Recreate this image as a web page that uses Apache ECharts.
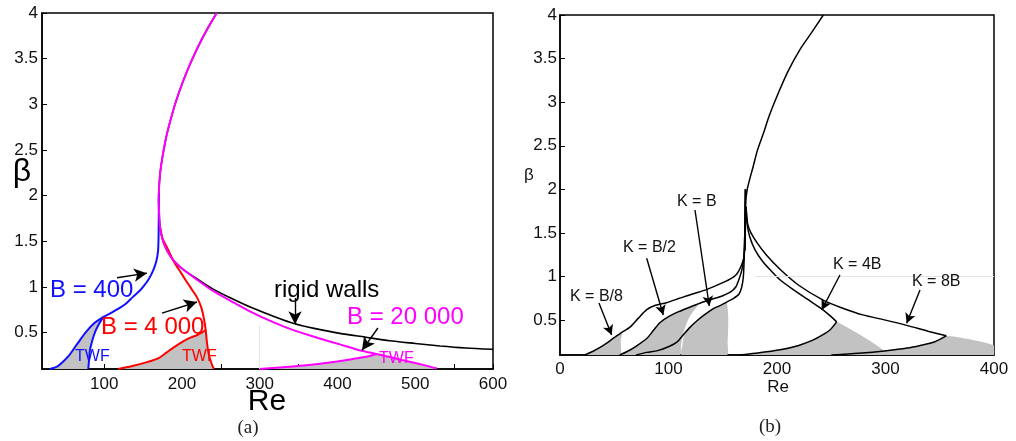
<!DOCTYPE html>
<html>
<head>
<meta charset="utf-8">
<script src="https://cdn.jsdelivr.net/npm/echarts@6/dist/echarts.min.js"></script>
<style>
html,body{margin:0;padding:0;background:#fff}
#chart{width:1016px;height:441px}
</style>
</head>
<body>
<div id="chart"></div>
<script>
// ---------- Panel (a): neutral curves, Re vs beta ----------
const rigidWalls = [[244.6,4],[231,3.8],[219,3.6],[205,3.33],[193,3.05],[186,2.85],[180,2.65],[175.5,2.45],[172,2.25],[170.3,2.05],[170,1.95],[170.7,1.8],[171.7,1.66],[175,1.52],[180,1.41],[188,1.3],[200,1.2],[219,1.09],[240,0.975],[262,0.88],[290,0.77],[320,0.67],[345,0.595],[370,0.545],[403,0.49],[435,0.45],[467,0.41],[500,0.38],[532,0.352],[565,0.33],[600,0.316]];
const b20000Upper = [[244.6,4],[231,3.8],[219,3.6],[205,3.33],[193,3.05],[186,2.85],[180,2.65],[175.5,2.45],[172,2.25],[170.3,2.05],[170,1.95],[170.7,1.8],[171.7,1.66],[175,1.52],[180,1.41],[188,1.3],[200,1.2],[219,1.08],[240,0.955],[262,0.85],[290,0.72],[318,0.61],[345,0.52],[375,0.44],[403,0.37],[431,0.3],[450,0.265],[470,0.225],[490,0.185],[510,0.145],[528,0.105]];
const b20000Lower = [[300,0.1],[330,0.12],[360,0.14],[390,0.17],[420,0.21],[440,0.24],[450,0.265]];
const b4000Upper = [[171.7,1.66],[175,1.53],[178.5,1.47],[182,1.41],[190,1.27],[197.5,1.17],[205,1.07],[212,0.98],[219,0.89],[225,0.77],[228.5,0.64],[230.5,0.53],[232,0.4],[234.5,0.26],[238,0.16],[241,0.1]];
const b4000Lower = [[118,0.1],[135,0.13],[155,0.175],[170,0.22],[180,0.28],[190,0.34],[201,0.4],[210,0.44],[219,0.47],[226,0.5],[230.5,0.53]];
const b400Upper = [[30,0.1],[40,0.13],[47,0.18],[54,0.24],[60,0.31],[69,0.42],[77,0.51],[87,0.6],[97,0.66],[106,0.7],[116,0.75],[127,0.81],[137,0.89],[146,0.96],[151,1.01],[157,1.08],[163,1.18],[167,1.28],[169.3,1.4],[170,1.6],[170.2,1.85],[170.5,2.03]];
const b400Lower = [[79.5,0.1],[80.5,0.2],[81.7,0.31],[84,0.39],[86,0.45],[89,0.52],[92.4,0.58],[98,0.66]];
const arrowsA = [[[116.5,1.1],[155,1.15]],[[174.3,0.713],[219.3,0.834]],[[345.4,0.878],[345.4,0.59]],[[452,0.549],[431.5,0.305]]];

// ---------- Panel (b): effect of K ----------
const mainTop = [[242.7,4],[232,3.8],[221,3.6],[210,3.35],[199.7,3.06],[193,2.85],[187.4,2.64],[182,2.45],[178,2.26],[174.5,2.1],[172.6,2.0],[171,1.85],[170.7,1.6],[170.6,1.3]];
const kB8 = [[23,0.1],[30,0.14],[40,0.21],[49,0.29],[57,0.36],[64.5,0.42],[72,0.52],[80,0.62],[88,0.67],[98,0.7],[110,0.75],[122,0.8],[135,0.85],[150,0.93],[158,0.98],[163,1.03],[167,1.12],[169.5,1.22],[170.5,1.4],[171,1.7],[171,2.0]];
const kB2 = [[55,0.1],[62,0.14],[70,0.2],[80,0.29],[86,0.38],[92,0.47],[100,0.54],[110,0.6],[120,0.65],[130,0.7],[140,0.74],[150,0.78],[157,0.82],[162,0.88],[165,0.97],[167.5,1.07],[169.3,1.2],[170,1.35],[170.5,1.6],[171,2.0]];
const kB = [[70,0.1],[80,0.13],[90,0.15],[101,0.2],[108,0.25],[113.5,0.33],[120,0.42],[126,0.49],[133,0.56],[141,0.63],[148,0.67],[154,0.71],[160,0.75],[165,0.8],[167.5,0.88],[169,1.0],[169.7,1.19],[170.3,1.5],[170.8,2.0]];
const k4BUpper = [[171.5,1.8],[172.5,1.6],[175,1.45],[180,1.3],[187,1.17],[195,1.06],[203,0.96],[215,0.85],[228,0.74],[240,0.64],[248,0.56],[255,0.48]];
const k4BLower = [[165,0.1],[180,0.12],[203,0.16],[220,0.21],[233,0.27],[242,0.33],[249,0.39],[255,0.48]];
const k8BUpper = [[171.5,1.8],[173,1.6],[176,1.5],[182,1.38],[190,1.25],[203,1.08],[220,0.9],[242.5,0.73],[260,0.64],[279,0.56],[300,0.5],[319.5,0.44],[340,0.37],[356,0.32]];
const k8BLower = [[250,0.1],[275,0.12],[301,0.15],[320,0.18],[332,0.21],[345,0.25],[356,0.32]];
const greyB8 = [[23,0.1],[30,0.14],[40,0.21],[49,0.29],[57,0.36],[56,0.25],[55.5,0.1]];
const greyB2 = [[55,0.1],[62,0.14],[70,0.2],[80,0.29],[86,0.38],[92,0.47],[100,0.54],[110,0.6],[120,0.65],[128,0.69],[124,0.62],[120,0.55],[116,0.44],[113,0.32],[111.5,0.2],[110.5,0.1]];
const greyB = [[112,0.1],[113,0.22],[114.5,0.34],[120,0.42],[126,0.49],[133,0.56],[141,0.63],[148,0.67],[153.6,0.7],[155,0.55],[155,0.4],[154.5,0.25],[154,0.1]];
const grey4B = [[165,0.1],[180,0.12],[203,0.16],[220,0.21],[233,0.27],[242,0.33],[249,0.39],[255,0.48],[301,0.1]];
const grey8B = [[250,0.1],[275,0.12],[301,0.15],[320,0.18],[332,0.21],[345,0.25],[356,0.32],[400,0.21],[400,0.1]];
const arrowsB = [[[35.9,0.697],[47.6,0.329]],[[79.9,1.21],[95.2,0.559]],[[124.4,1.763],[137.6,0.662]],[[258,1.018],[241.2,0.616]],[[331.8,0.846],[319.5,0.464]]];

// ---------- tick labels ----------
const betaTicks = [0.5,1,1.5,2,2.5,3,3.5,4];
const reTicksA = [100,200,300,400,500,600];
const reMinorA = [50,100,150,200,250,300,350,400,450,500,550,600];
const reTicksB = [0,100,200,300,400];
const reMinorB = [50,100,150,200,250,300,350];

const FONT = '"Liberation Sans", Arial, sans-serif';

function axis(gridIndex, min, max, labels, ticks, margin) {
  return {
    type: 'value', gridIndex, min, max,
    axisLine: {show: true, lineStyle: {color: '#000', width: 1.5}},
    axisTick: {show: true, inside: true, length: 5, customValues: ticks, lineStyle: {color: '#000', width: 1}},
    axisLabel: {customValues: labels, margin, fontSize: 17, color: '#111', fontFamily: FONT},
    splitLine: {show: false}
  };
}

function line(data, color, width, xi, z) {
  return {type: 'line', xAxisIndex: xi, yAxisIndex: xi, data, showSymbol: false, symbol: 'none',
    smooth: 0.25, lineStyle: {color, width}, silent: true, z: z || 3, animation: false};
}

function area(points, color, xi) {
  return {
    type: 'custom', xAxisIndex: xi, yAxisIndex: xi, data: [points[0]], silent: true, z: 1, clip: true, animation: false,
    renderItem: (params, api) => ({
      type: 'polygon',
      shape: {points: points.map(p => api.coord(p)), smooth: 0.2},
      style: {fill: color}
    })
  };
}

function arrows(list, xi, size) {
  return {
    type: 'line', xAxisIndex: xi, yAxisIndex: xi, data: [list[0][0]], symbol: 'none', lineStyle: {width: 0}, z: 5,
    animation: false,
    markLine: {
      silent: true, animation: false, symbol: ['none', 'arrow'], symbolSize: size,
      label: {show: false}, lineStyle: {color: '#000', width: 1.4, type: 'solid'},
      data: list.map(a => [{coord: a[0]}, {coord: a[1]}])
    }
  };
}

function faint(from, to, xi) {
  return {
    type: 'line', xAxisIndex: xi, yAxisIndex: xi, data: [from], symbol: 'none', lineStyle: {width: 0}, z: 0,
    animation: false,
    markLine: {silent: true, animation: false, symbol: ['none', 'none'], label: {show: false},
      lineStyle: {color: '#e4e4e4', width: 1, type: 'solid'}, data: [[{coord: from}, {coord: to}]]}
  };
}

// grey TWF regions of panel (a), built from the curve arrays
const greyA400 = b400Upper.filter(p => p[0] <= 98).concat(b400Lower.slice().reverse());
const greyA4000 = b4000Lower.concat(b4000Upper.filter(p => p[1] < 0.53));
const greyA20000 = b20000Lower.concat(b20000Upper.filter(p => p[0] > 450)).concat([[528,0.1]]);

const GREY = '#c2c2c2';

function txt(text, x, y, size, color, family, align) {
  return {type: 'text', x, y, silent: true, z: 10,
    style: {text, fill: color, font: size + 'px ' + (family || FONT), align: align || 'left', verticalAlign: 'middle'}};
}

const chart = echarts.init(document.getElementById('chart'), null, {renderer: 'canvas'});
chart.setOption({
  animation: false,
  backgroundColor: '#fff',
  grid: [
    {left: 42, top: 13, width: 451, height: 356, show: true, borderColor: '#000', borderWidth: 1.5, backgroundColor: 'transparent'},
    {left: 560, top: 15, width: 434, height: 340, show: true, borderColor: '#000', borderWidth: 1.5, backgroundColor: 'transparent'}
  ],
  xAxis: [
    axis(0, 20, 600, reTicksA, reMinorA, 7),
    axis(1, 0, 400, reTicksB, reMinorB, 6)
  ],
  yAxis: [
    axis(0, 0.1, 4, betaTicks, betaTicks, 4),
    axis(1, 0.1, 4, betaTicks, betaTicks, 3)
  ],
  series: [
    area(greyA400, GREY, 0),
    area(greyA4000, GREY, 0),
    area(greyA20000, GREY, 0),
    faint([300, 0.1], [300, 0.58], 0),
    line(rigidWalls, '#000', 1.6, 0, 2),
    line(b400Upper, '#1010ff', 2, 0),
    line(b400Lower, '#1010ff', 2, 0),
    line(b4000Upper, '#ff0000', 2, 0),
    line(b4000Lower, '#ff0000', 2, 0),
    line(b20000Upper, '#ff00ff', 2, 0, 4),
    line(b20000Lower, '#ff00ff', 2, 0, 4),
    arrows(arrowsA, 0, [10, 13]),

    area(greyB8, GREY, 1),
    area(greyB2, GREY, 1),
    area(greyB, GREY, 1),
    area(grey4B, GREY, 1),
    area(grey8B, GREY, 1),
    faint([180, 1], [400, 1], 1),
    line(mainTop, '#000', 1.5, 1),
    line(kB8, '#000', 1.5, 1),
    line(kB2, '#000', 1.5, 1),
    line(kB, '#000', 1.5, 1),
    line(k4BUpper, '#000', 1.5, 1),
    line(k4BLower, '#000', 1.5, 1),
    line(k8BUpper, '#000', 1.5, 1),
    line(k8BLower, '#000', 1.5, 1),
    arrows(arrowsB, 1, [8, 10])
  ],
  graphic: [
    txt('B = 400', 50, 290, 24, '#1010ff'),
    txt('B = 4 000', 101, 327, 24, '#ff0000'),
    txt('rigid walls', 274, 290, 24, '#000'),
    txt('B = 20 000', 347, 317, 24, '#ff00ff'),
    txt('TWF', 75, 357, 16, '#1010ff'),
    txt('TWF', 182, 357, 16, '#ff0000'),
    txt('TWF', 379, 359, 16, '#ff00ff'),
    txt('Re', 267, 402, 30, '#000', null, 'center'),
    txt('β', 22, 172, 32, '#000', null, 'center'),
    txt('(a)', 248, 428, 19, '#222', '"Liberation Serif", serif', 'center'),

    txt('K = B/8', 570, 297, 16, '#111'),
    txt('K = B/2', 623, 248, 16, '#111'),
    txt('K = B', 677, 202, 16, '#111'),
    txt('K = 4B', 833, 265, 16, '#111'),
    txt('K = 8B', 912, 282, 16, '#111'),
    txt('Re', 778, 387, 17, '#111', null, 'center'),
    txt('β', 529, 175, 17, '#111', null, 'center'),
    txt('(b)', 770, 427, 19, '#222', '"Liberation Serif", serif', 'center')
  ]
});
</script>
</body>
</html>
